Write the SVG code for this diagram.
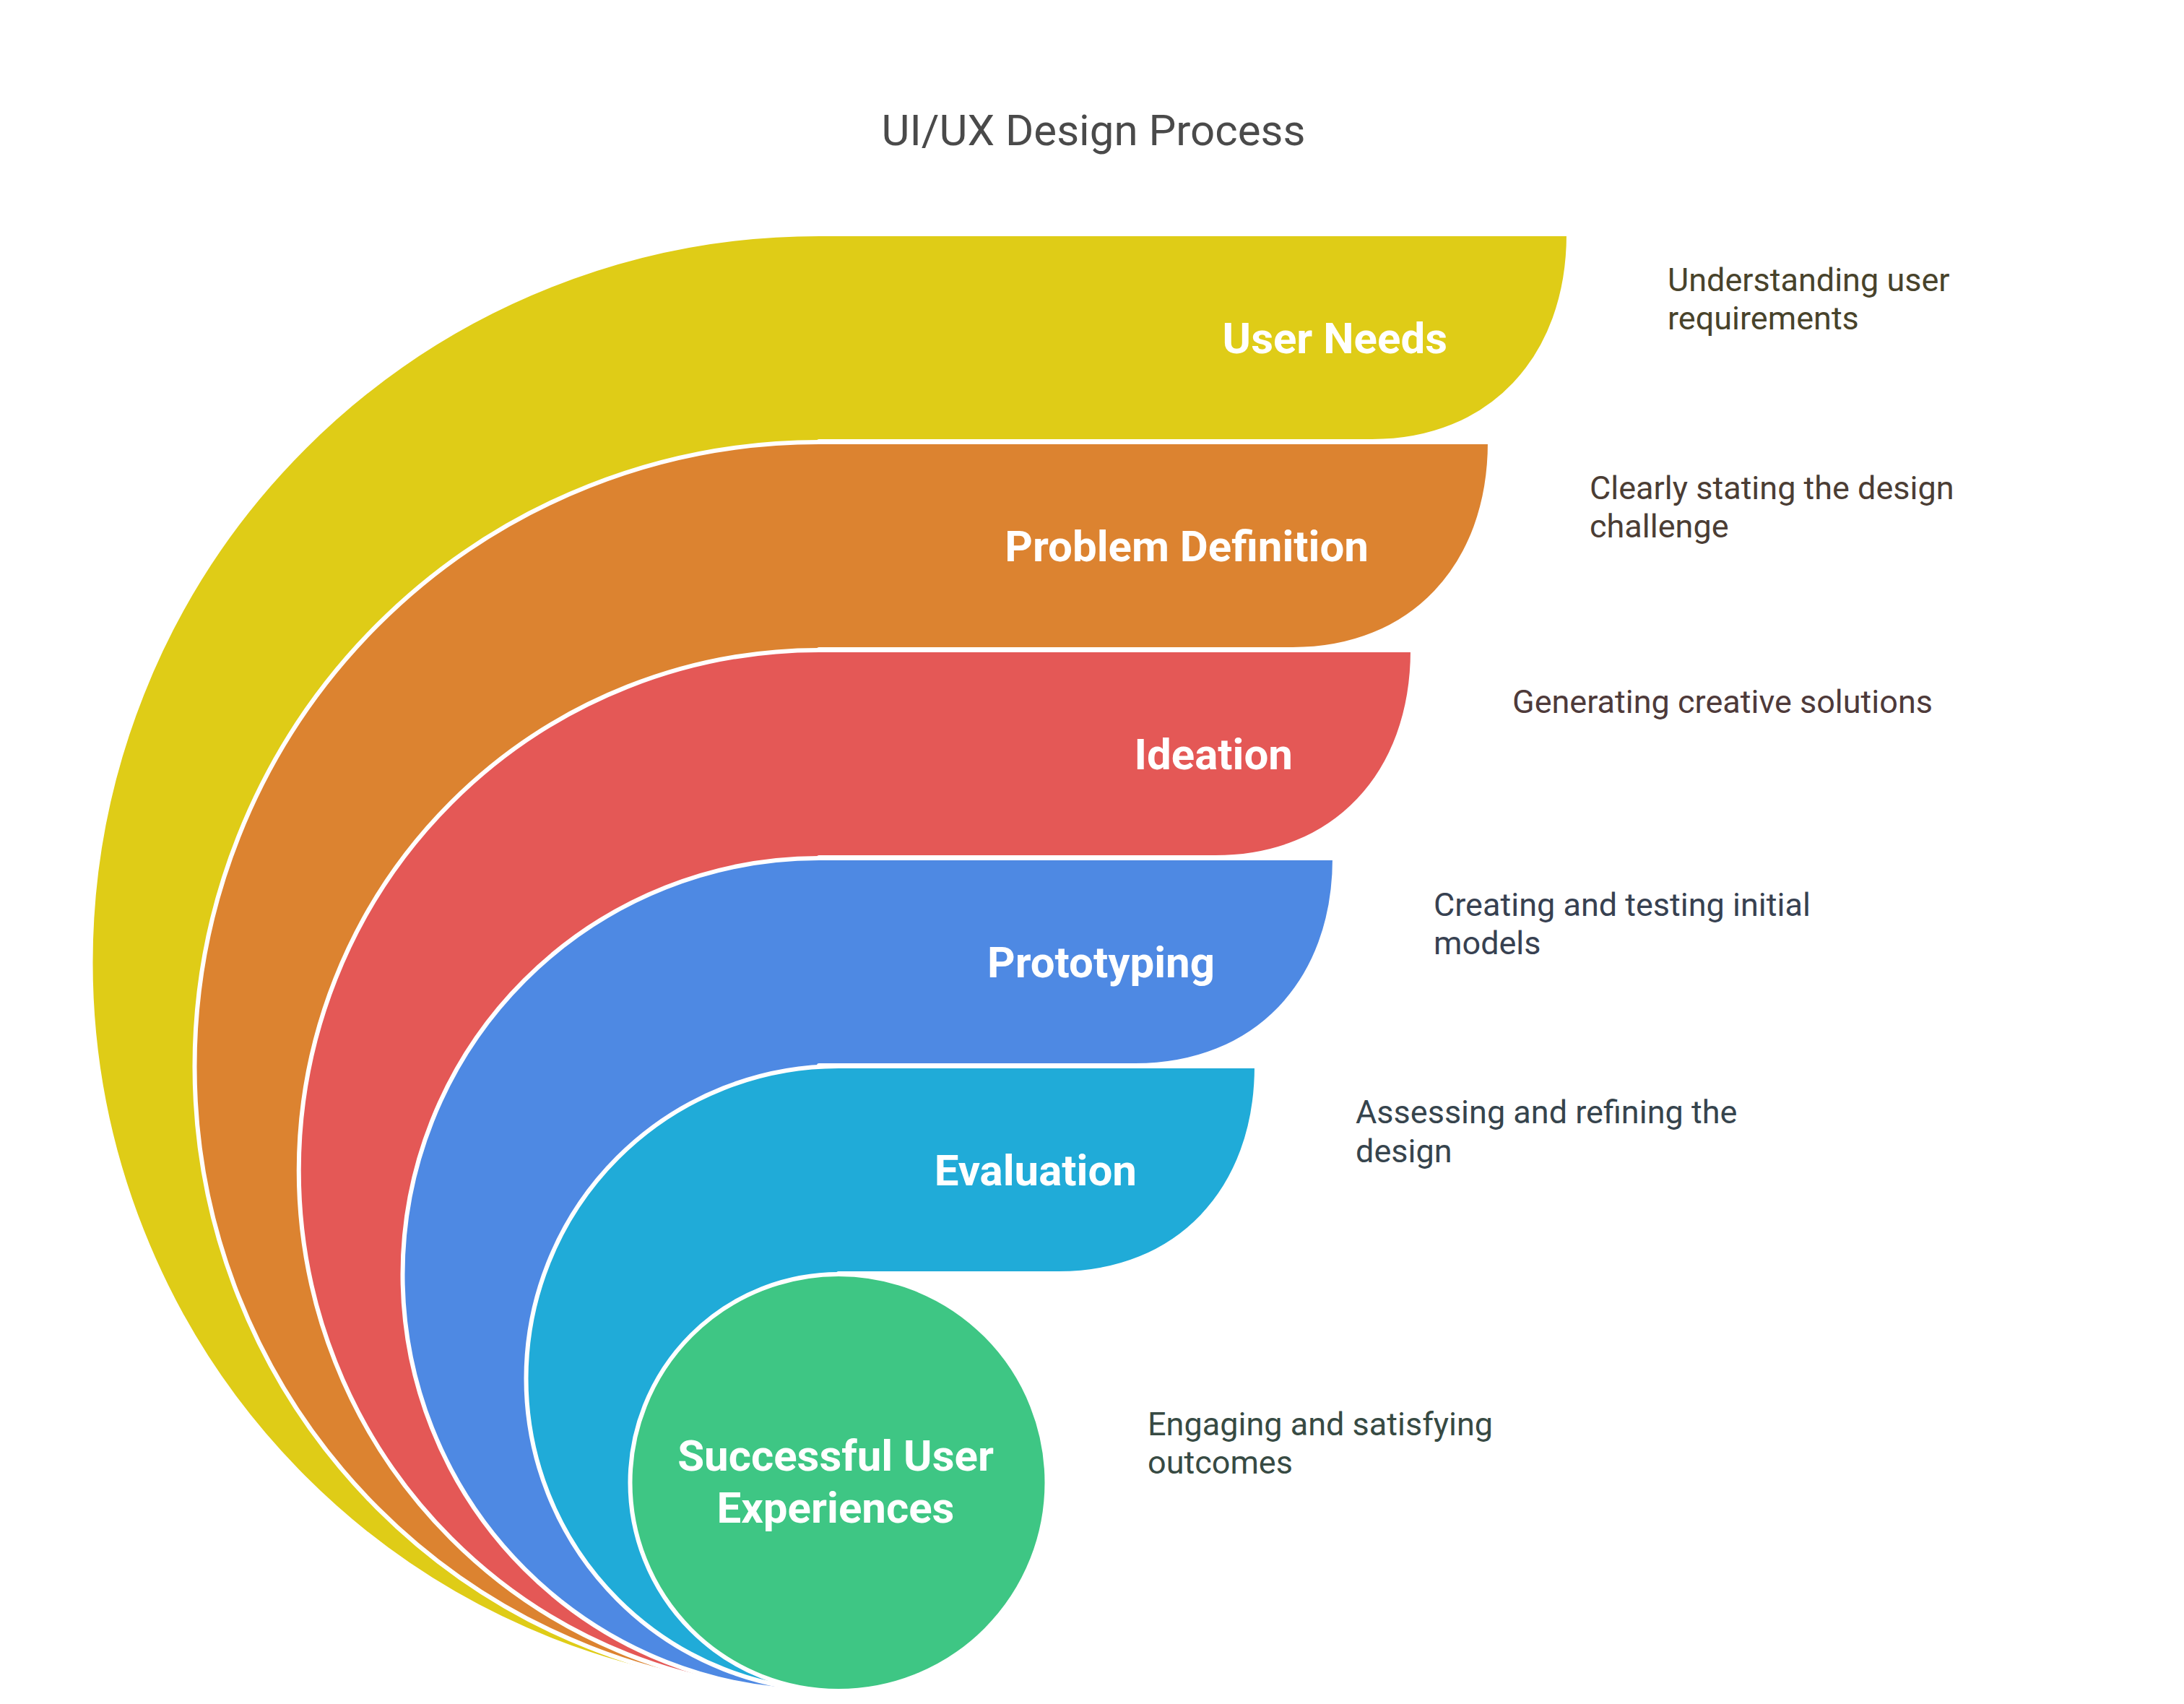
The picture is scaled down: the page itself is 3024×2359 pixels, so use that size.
<svg xmlns="http://www.w3.org/2000/svg" width="3024" height="2359" viewBox="0 0 3024 2359">
<style>
.shape{stroke:#ffffff;stroke-width:6;stroke-linejoin:round}
.label{font-family:Roboto,"Liberation Sans",Arial,sans-serif;font-weight:700;font-size:60px;fill:#ffffff;text-anchor:end}
.center{text-anchor:middle}
.desc{font-family:Roboto,"Liberation Sans",Arial,sans-serif;font-weight:400;font-size:45px}
.title{font-family:Roboto,"Liberation Sans",Arial,sans-serif;font-weight:400;font-size:60px;fill:#4a4a4a;text-anchor:middle}
</style>
<rect width="3024" height="2359" fill="#ffffff"/>
<text class="title" x="1514" y="201">UI/UX Design Process</text>
<g id="connectors"/>
<g id="user-needs">
<path class="shape" fill="#DFCC17" d="M1134,324 H2172 C2172,496 2063,611 1900,611 H1134 V2341 A1008.5,1008.5 0 0 1 1134,324 Z"/>
<text class="label" x="2004" y="489">User Needs</text>
<text class="desc" fill="#48432b" x="2309" y="403">Understanding user<tspan x="2309" dy="53">requirements</tspan></text>
</g>
<g id="problem-definition">
<path class="shape" fill="#DC8330" d="M1134,612 H2063 C2063,784 1954,899 1790,899 H1134 V2341 A864.5,864.5 0 0 1 1134,612 Z"/>
<text class="label" x="1895" y="777">Problem Definition</text>
<text class="desc" fill="#4b3d34" x="2201" y="691">Clearly stating the design<tspan x="2201" dy="53">challenge</tspan></text>
</g>
<g id="ideation">
<path class="shape" fill="#E45856" d="M1134,900 H1956 C1956,1072 1847,1187 1683,1187 H1134 V2341 A720.5,720.5 0 0 1 1134,900 Z"/>
<text class="label" x="1790" y="1065">Ideation</text>
<text class="desc" fill="#4e3a3a" x="2094" y="987">Generating creative solutions</text>
</g>
<g id="prototyping">
<path class="shape" fill="#4E89E3" d="M1134,1188 H1848 C1848,1360 1738,1475 1572,1475 H1134 V2341 A576.5,576.5 0 0 1 1134,1188 Z"/>
<text class="label" x="1682" y="1353">Prototyping</text>
<text class="desc" fill="#374151" x="1985" y="1268">Creating and testing initial<tspan x="1985" dy="53">models</tspan></text>
</g>
<g id="evaluation">
<path class="shape" fill="#20ABD8" d="M1161,1476 H1740 C1740,1648 1630,1763 1466,1763 H1161 V2341 A432.5,432.5 0 0 1 1161,1476 Z"/>
<text class="label" x="1574" y="1641">Evaluation</text>
<text class="desc" fill="#36444d" x="1877" y="1555">Assessing and refining the<tspan x="1877" dy="54">design</tspan></text>
</g>
<g id="successful-user-experiences">
<circle class="shape" fill="#3EC684" cx="1161" cy="2052.5" r="288.5"/>
<text class="label center" x="1157" y="2036">Successful User<tspan x="1157" dy="72">Experiences</tspan></text>
<text class="desc" fill="#374a43" x="1589" y="1987">Engaging and satisfying<tspan x="1589" dy="53">outcomes</tspan></text>
</g>
</svg>
